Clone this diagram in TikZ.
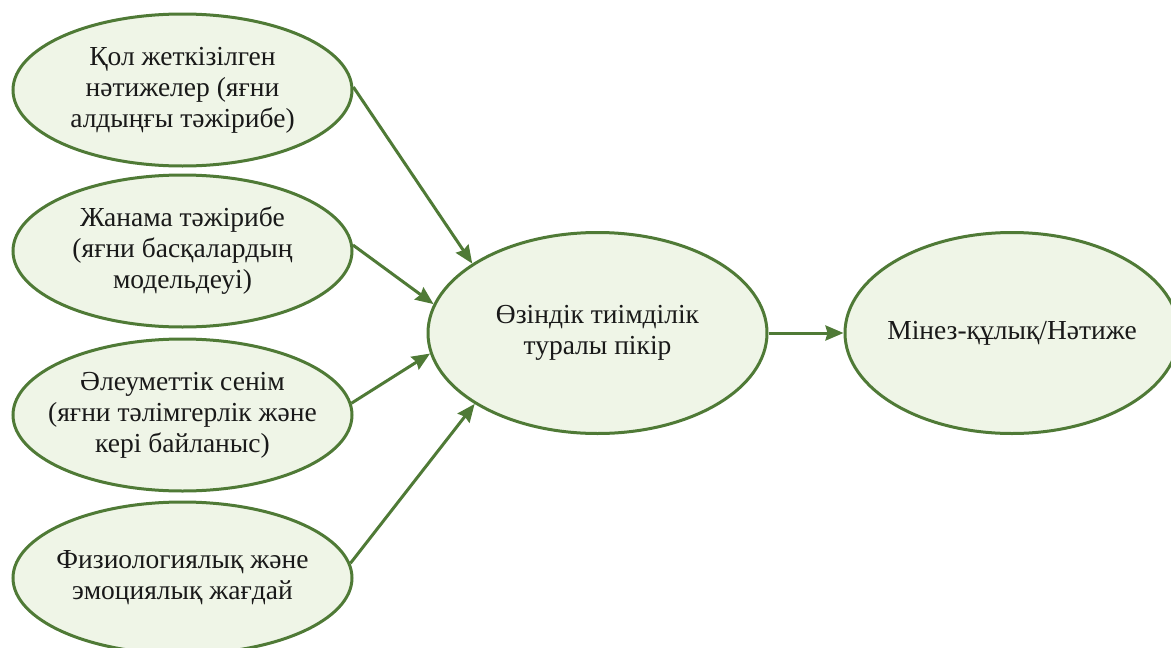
\documentclass[tikz,border=0pt]{standalone}
\usepackage{fontspec}
\setmainfont{Liberation Serif}
\usetikzlibrary{shapes.geometric,arrows.meta}
\definecolor{edgegreen}{HTML}{4F7A36}
\definecolor{fillgreen}{HTML}{EFF5E7}
\begin{document}
\begin{tikzpicture}[x=1pt,y=-1pt,
  bubble/.style={ellipse, draw=edgegreen, fill=fillgreen, line width=3pt,
    inner sep=-40pt, align=center, text=black!90,
    font=\fontsize{27.5}{31}\selectfont},
  src/.style={bubble, minimum width=339pt, minimum height=152pt},
  big/.style={bubble, minimum width=339pt, minimum height=201pt},
  link/.style={draw=edgegreen, line width=3pt,
    -{Stealth[length=18pt,width=15pt,inset=2pt]}}]
\useasboundingbox (0,0) rectangle (1171,648);
% four sources of belief on the left
\node[src] (e1) at (182.5,90)  {Қол жеткізілген\\нәтижелер (яғни\\алдыңғы тәжірибе)};
\node[src] (e2) at (182.5,251) {Жанама тәжірибе\\(яғни басқалардың\\модельдеуі)};
\node[src] (e3) at (182.5,415) {Әлеуметтік сенім\\(яғни тәлімгерлік және\\кері байланыс)};
\node[src] (e4) at (182.5,578) {Физиологиялық және\\эмоциялық жағдай};
% central belief and its outcome
\node[big] (c) at (597.5,333) {Өзіндік тиімділік\\туралы пікір};
\node[big, minimum width=334pt] (r) at (1012,333) {Мінез-құлық/Нәтиже};
% connectors
\draw[link] (e1.1) -- (c.151);
\draw[link] (e2.2) -- (c.170);
\draw[link] (e3.4) -- (c.187);
\draw[link] (e4.5) -- (c.210);
\draw[link] (c.east) -- (r.west);
\end{tikzpicture}
\end{document}
